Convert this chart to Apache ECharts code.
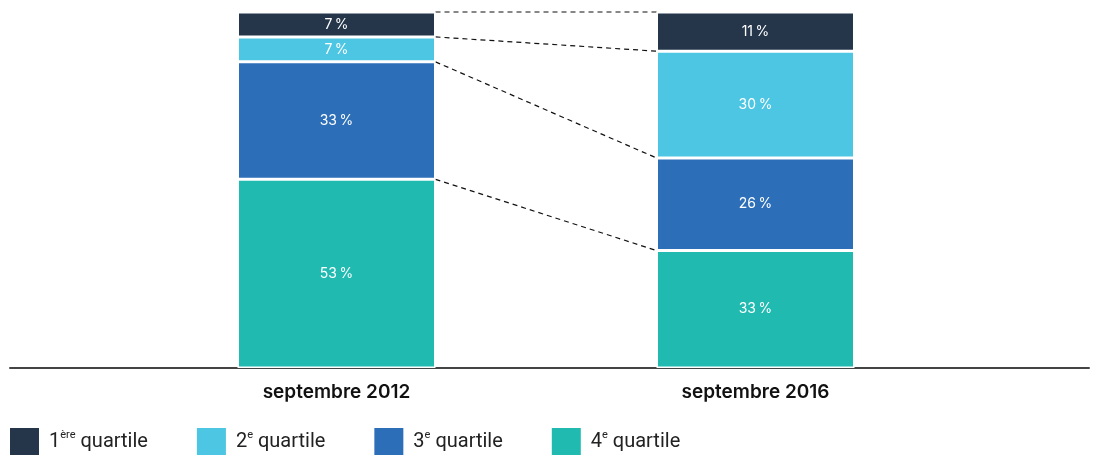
<!DOCTYPE html>
<html>
<head>
<meta charset="utf-8">
<script src="https://cdn.jsdelivr.net/npm/echarts@6/dist/echarts.min.js"></script>
<style>
  html, body { margin: 0; padding: 0; background: #fff; }
  #chart { width: 1106px; height: 455px; }
</style>
</head>
<body>
<div id="chart"></div>
<script>
var categories = ['septembre 2012', 'septembre 2016'];
var quartileNums = ['1', '2', '3', '4'];
var quartileSups = ['ère', 'e', 'e', 'e'];
var colors = ['#25364b', '#4cc6e2', '#2c6fb8', '#20bab0'];
var q1 = [7, 11];
var q2 = [7, 30];
var q3 = [33, 26];
var q4 = [53, 33];

var BAR_W = 198;
var names = quartileNums.map(function (n, i) { return n + quartileSups[i] + ' quartile'; });

// tops of each segment (cumulative), used for the dashed connectors
function cum(arrs, k) {
  var s = 0;
  arrs.forEach(function (a) { s += a[k]; });
  return s;
}
var linkData = [
  [0, cum([q4], 0), cum([q4], 1)],
  [0, cum([q4, q3], 0), cum([q4, q3], 1)],
  [0, cum([q4, q3, q2], 0), cum([q4, q3, q2], 1)],
  [0, cum([q4, q3, q2, q1], 0), cum([q4, q3, q2, q1], 1)]
];

var chart = echarts.init(document.getElementById('chart'));

function barSeries(idx, data) {
  return {
    name: names[idx],
    type: 'bar',
    stack: 'total',
    barWidth: BAR_W,
    data: data,
    itemStyle: { color: colors[idx], borderColor: '#fff', borderWidth: 1.5 },
    label: {
      show: true,
      position: 'inside',
      color: '#fff',
      fontFamily: 'Inter',
      fontSize: 14,
      formatter: '{c}\u2009%'
    }
  };
}

var option = {
  animation: false,
  grid: [
    { left: 127, right: 141, top: 12, bottom: 87 },
    { left: 10, right: 17, top: 12, bottom: 87 }
  ],
  xAxis: [
    {
      type: 'category',
      data: categories,
      gridIndex: 0,
      axisLine: { show: false },
      axisTick: { show: false },
      axisLabel: {
        margin: 15,
        color: '#111',
        fontFamily: 'Inter',
        fontWeight: 600,
        fontSize: 19
      }
    },
    {
      type: 'value',
      gridIndex: 1,
      min: 0,
      max: 1,
      axisLine: { show: true, lineStyle: { color: '#444', width: 2 } },
      axisTick: { show: false },
      axisLabel: { show: false },
      splitLine: { show: false }
    }
  ],
  yAxis: [
    { type: 'value', gridIndex: 0, min: 0, max: 100, show: false },
    { type: 'value', gridIndex: 1, min: 0, max: 1, show: false }
  ],
  legend: {
    left: 8,
    top: 426,
    padding: 0,
    itemWidth: 31,
    itemHeight: 30,
    itemGap: 47,
    icon: 'rect',
    data: names,
    formatter: function (name) {
      var i = names.indexOf(name);
      return '{f|' + quartileNums[i] + '}{s|' + quartileSups[i] + '}{n| quartile}';
    },
    textStyle: {
      rich: {
        f: { fontFamily: 'Roboto', fontSize: 20, color: '#222', lineHeight: 24, padding: [0, 0, 0, 4] },
        n: { fontFamily: 'Roboto', fontSize: 20, color: '#222', lineHeight: 24 },
        s: { fontFamily: 'Roboto', fontSize: 11, color: '#222', lineHeight: 24, verticalAlign: 'top', padding: [0, 0, 6, 0] }
      }
    }
  },
  series: [
    barSeries(3, q4),
    barSeries(2, q3),
    barSeries(1, q2),
    barSeries(0, q1),
    {
      type: 'custom',
      xAxisIndex: 0,
      yAxisIndex: 0,
      encode: { x: 0, y: 1 },
      data: linkData,
      silent: true,
      renderItem: function (params, api) {
        var p1 = api.coord([0, api.value(1)]);
        var p2 = api.coord([1, api.value(2)]);
        var half = BAR_W / 2;
        return {
          type: 'line',
          shape: { x1: p1[0] + half, y1: p1[1], x2: p2[0] - half, y2: p2[1] },
          style: { stroke: '#111', lineWidth: 1.2, lineDash: [5, 4] }
        };
      }
    }
  ]
};

chart.setOption(option);
</script>
</body>
</html>
